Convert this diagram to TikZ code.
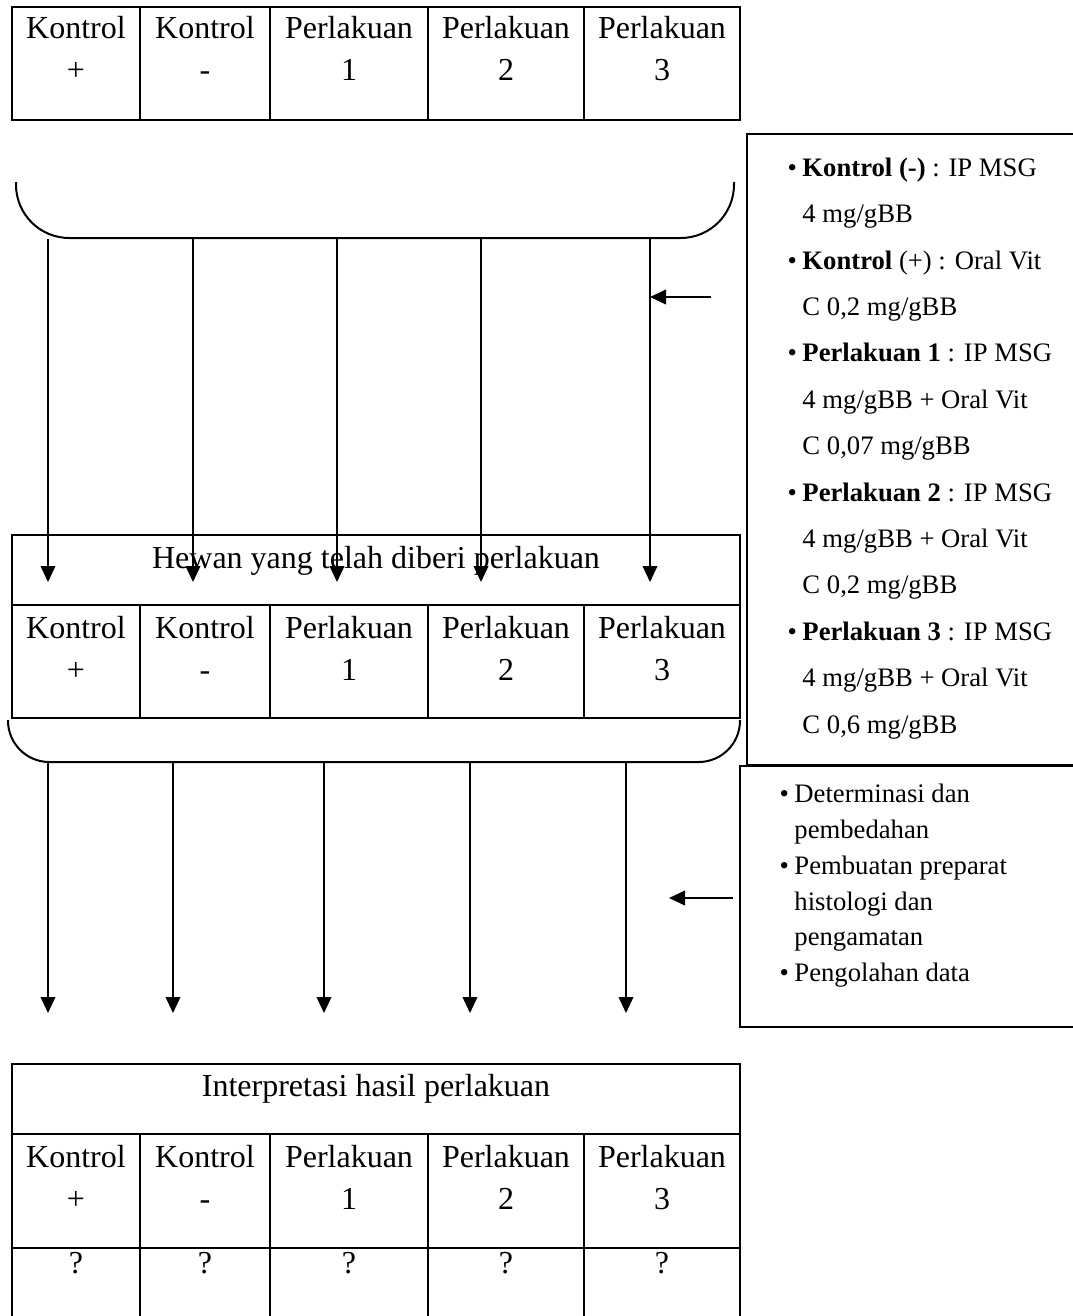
\documentclass[tikz,border=0pt]{standalone}
\usepackage{fontspec}
\setmainfont{Liberation Serif}
\usetikzlibrary{arrows.meta,positioning,fit}

\newcommand{\butir}{\makebox[5.6pt][l]{\textbullet}}
\newcommand{\lanjut}{\hspace*{5.6pt}}

\begin{document}
\begin{tikzpicture}[
    x=0.375pt, y=-0.375pt,
    tabel/.style={line width=0.5pt},
    panah/.style={-{Triangle[length=6pt,width=5.5pt]}, line width=0.6pt},
    kurung/.style={line width=0.75pt},
    sel/.style={align=center, anchor=base, inner sep=0pt, font=\fontsize{12}{15.75}\selectfont},
    ket/.style={align=left, anchor=base west, inner sep=0pt},
    kotak/.style={draw, line width=0.6pt, inner sep=0pt}
]
    \useasboundingbox (0,0) rectangle (1073,1316);

    % Tabel awal
    \draw[tabel] (12,7) rectangle (740,120);
    \foreach \x in {140,270,428,584} \draw[tabel] (\x,7) -- (\x,120);

    % Tabel hewan
    \draw[tabel] (12,535) rectangle (740,718);
    \draw[tabel] (12,605) -- (740,605);
    \foreach \x in {140,270,428,584} \draw[tabel] (\x,605) -- (\x,718);
    \node[sel] (hewan) at (376,568.5) {Hewan yang telah diberi perlakuan};

    % Tabel interpretasi
    \draw[tabel] (12,1064) rectangle (740,1322);
    \draw[tabel] (12,1134) -- (740,1134);
    \draw[tabel] (12,1248) -- (740,1248);
    \foreach \x in {140,270,428,584} \draw[tabel] (\x,1134) -- (\x,1322);
    \node[sel] (interpretasi) at (376,1096.5) {Interpretasi hasil perlakuan};

    % Isi kolom (base = baris terakhir)
    \foreach \cx/\ta/\tb [count=\i] in {76/Kontrol/+,205/Kontrol/-,349/Perlakuan/1,506/Perlakuan/2,662/Perlakuan/3} {
        \node[sel] (awal\i) at (\cx,80.5) {\ta\\\tb};
        \node[sel] (hewan\i) at (\cx,680) {\ta\\\tb};
        \node[sel] (interp\i) at (\cx,1209) {\ta\\\tb};
        \node[sel] (hasil\i) at (\cx,1273) {?};
    }

    % Kurung
    \draw[kurung, rounded corners=20pt] (16,182) -- (16,238) -- (734,238) -- (734,182);
    \draw[kurung, rounded corners=15.5pt] (8,720) -- (8,762) -- (740,762) -- (740,720);

    % Panah ke tabel hewan
    \foreach \x [count=\i] in {48,193,337,481,650} {
        \coordinate (ka\i) at (\x,239);
        \coordinate (ta\i) at (\x,582);
        \draw[panah] (ka\i) -- (ta\i);
    }

    % Panah ke tabel interpretasi
    \foreach \x [count=\i] in {48,173,324,470,626} {
        \coordinate (kb\i) at (\x,762);
        \coordinate (tb\i) at (\x,1013);
        \draw[panah] (kb\i) -- (tb\i);
    }

    % Kotak keterangan dosis
    \node[kotak, fit={(747,134) (1080,765)}] (dosisbox) {};
    \node[ket, font=\fontsize{10}{17.4}\selectfont] (dosis) at (787,733) {%
        \butir\textbf{Kontrol (-)} : IP MSG\\
        \lanjut 4 mg/gBB\\
        \butir\textbf{Kontrol} (+) : Oral Vit\\
        \lanjut C 0,2 mg/gBB\\
        \butir\textbf{Perlakuan 1} : IP MSG\\
        \lanjut 4 mg/gBB + Oral Vit\\
        \lanjut C 0,07 mg/gBB\\
        \butir\textbf{Perlakuan 2} : IP MSG\\
        \lanjut 4 mg/gBB + Oral Vit\\
        \lanjut C 0,2 mg/gBB\\
        \butir\textbf{Perlakuan 3} : IP MSG\\
        \lanjut 4 mg/gBB + Oral Vit\\
        \lanjut C 0,6 mg/gBB};

    % Kotak keterangan tahap
    \node[kotak, fit={(740,766) (1080,1027)}] (tahapbox) {};
    \node[ket, font=\fontsize{10}{13.4}\selectfont] (tahap) at (779,981.5) {%
        \butir Determinasi dan\\
        \lanjut pembedahan\\
        \butir Pembuatan preparat\\
        \lanjut histologi dan\\
        \lanjut pengamatan\\
        \butir Pengolahan data};

    % Panah keterangan
    \coordinate (da) at (711,297);
    \coordinate (db) at (650,297);
    \draw[panah] (da) -- (db);
    \coordinate (ea) at (733,898);
    \coordinate (eb) at (669,898);
    \draw[panah] (ea) -- (eb);
\end{tikzpicture}
\end{document}
